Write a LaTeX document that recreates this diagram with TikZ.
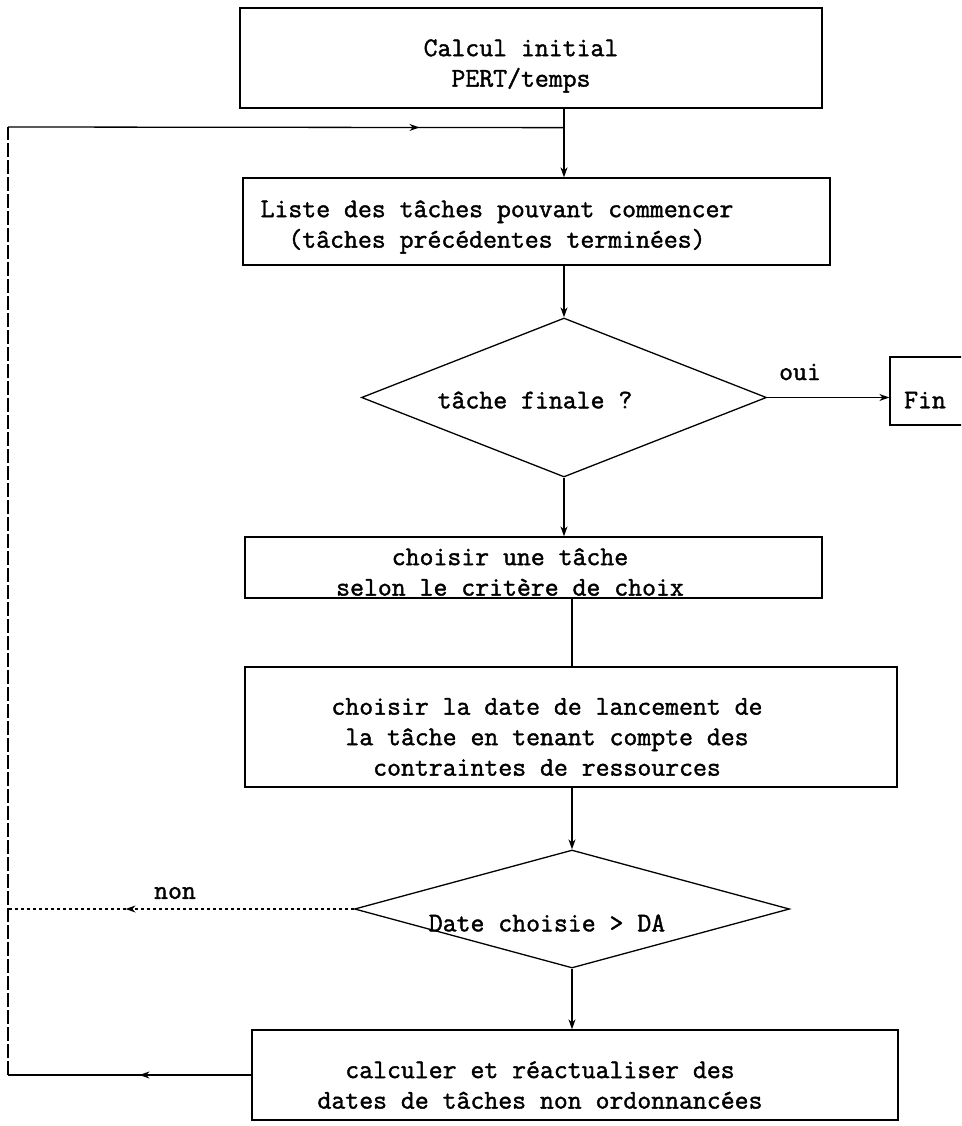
\documentclass[tikz,border=0pt]{standalone}
\usepackage{fontspec}
\newfontfamily\twfont{Latin Modern Mono}[FakeBold=1.5]
\usetikzlibrary{arrows.meta,shapes.geometric,decorations.markings,calc}
\begin{document}
\begin{tikzpicture}[x=1pt,y=-1pt,
  line width=1.3pt,
  boxnode/.style={draw, rectangle, inner sep=0pt},
  decnode/.style={draw, diamond, inner sep=0pt},
  txt/.style={font=\twfont\fontsize{27}{30.5}\selectfont, align=center, inner sep=0pt},
  flow/.style={-{Stealth[length=10pt,width=7pt]}},
  midarr/.style={postaction={decorate}, decoration={markings, mark=at position #1 with {\arrow{Stealth[length=10pt,width=7pt]}}}},
  loopline/.style={dash pattern=on 14pt off 3pt}]
\useasboundingbox (0,0) rectangle (961,1126);
\clip (0,0) rectangle (961,1126);
% boxes
\node[boxnode, minimum width=582pt, minimum height=100pt] (b1) at (531,58) {};
\node[boxnode, minimum width=587pt, minimum height=87pt] (b2) at (536.5,221.5) {};
\node[decnode, minimum width=405pt, minimum height=159pt] (d1) at (564,397.5) {};
\node[boxnode, minimum width=100pt, minimum height=68pt] (fin) at (940,391) {};
\node[boxnode, minimum width=577pt, minimum height=61pt] (b3) at (533.5,567.5) {};
\node[boxnode, minimum width=652pt, minimum height=120pt] (b4) at (571,727) {};
\node[decnode, minimum width=435pt, minimum height=118pt] (d2) at (572,909) {};
\node[boxnode, minimum width=646pt, minimum height=90pt] (b5) at (575,1075) {};
% texts
\node[txt] (t1) at (521,66) {Calcul initial\\PERT/temps};
\node[txt] (t2) at (497,227) {Liste des tâches pouvant commencer\\(tâches précédentes terminées)};
\node[txt] (td1) at (535,400) {tâche finale ?};
\node[txt] (toui) at (800,372) {oui};
\node[txt] (tfin) at (925,400) {Fin};
\node[txt] (t3) at (510,572) {choisir une tâche\\selon le critère de choix};
\node[txt] (t4) at (547,737) {choisir la date de lancement de\\la tâche en tenant compte des\\contraintes de ressources};
\node[txt] (td2) at (547,923) {Date choisie > DA};
\node[txt] (tnon) at (175,893) {non};
\node[txt] (t5) at (540,1085) {calculer et réactualiser des\\dates de tâches non ordonnancées};
% connectors
\coordinate (j) at ($(b1.south -| d1.north)+(0,19)$);
\coordinate (tl) at (8,127);
\coordinate (bl) at (tl |- b5.west);
\coordinate (nl) at (tl |- d2.west);
\draw[flow] (b1.south -| d1.north) -- (b2.north -| d1.north);
\draw[flow] (b2.south -| d1.north) -- (d1.north);
\draw[flow] (d1.east) -- (fin.west |- d1.east);
\draw[flow] (d1.south) -- (b3.north -| d1.south);
\draw (b3.south -| d2.north) -- (b4.north -| d2.north);
\draw[flow] (b4.south -| d2.north) -- (d2.north);
\draw[flow] (d2.south) -- (b5.north -| d2.south);
\draw[dashed, midarr=0.66] (d2.west) -- (nl);
\draw[midarr=0.46] (b5.west) -- (bl);
\draw[loopline] (bl) -- (tl);
\draw[midarr=0.74] (tl) -- (j);
\end{tikzpicture}
\end{document}
